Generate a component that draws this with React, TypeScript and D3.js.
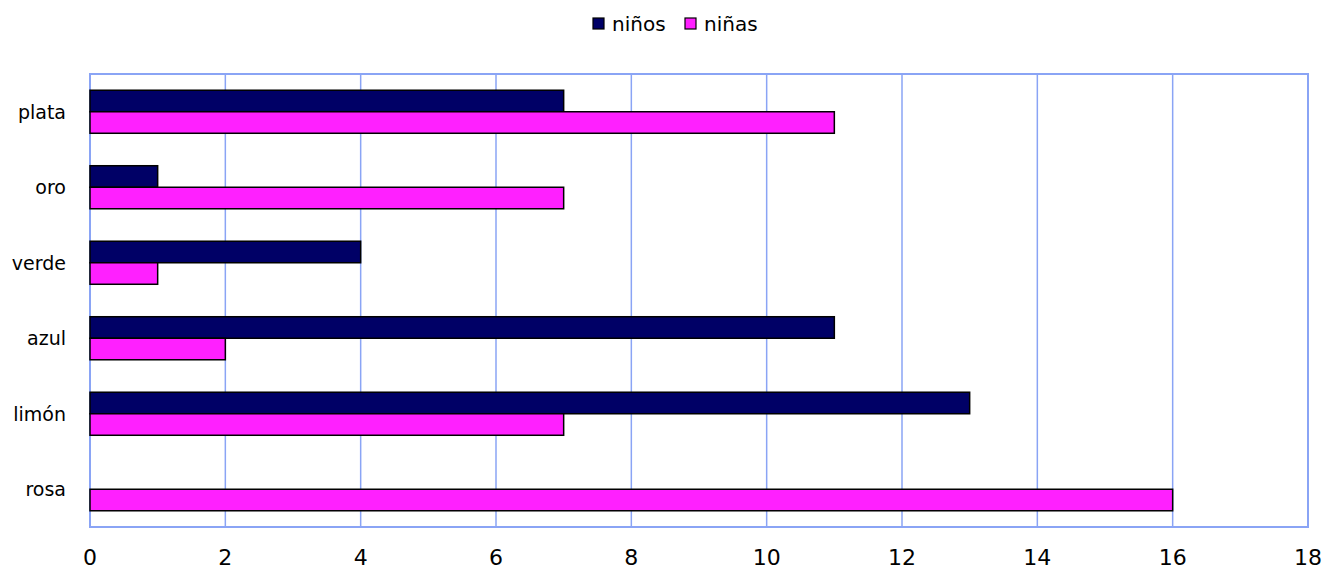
import * as d3 from "d3";

const categories = ["plata", "oro", "verde", "azul", "limón", "rosa"];
const ninos = [7, 1, 4, 11, 13, 0];
const ninas = [11, 7, 1, 2, 7, 16];
const seriesNames = ["niños", "niñas"];
const xTicks = [0, 2, 4, 6, 8, 10, 12, 14, 16, 18];

const colors = ["#000066", "#ff20ff"];
const gridColor = "#8aa4f5";
const font = "'DejaVu Sans', Verdana, sans-serif";

const App = () => {
  const width = 1325;
  const height = 568;
  const left = 90;
  const right = 1308;
  const top = 74;
  const bottom = 527;

  const x = d3.scaleLinear().domain([0, 18]).range([left, right]);
  const y = d3.scaleBand().domain(categories).range([top, bottom]).paddingInner(0.43).paddingOuter(0.215);
  const inner = d3.scaleBand().domain(seriesNames).range([0, y.bandwidth()]);

  const values = [ninos, ninas];

  return (
    <svg
      width={width}
      height={height}
      style={{ position: "absolute", left: 0, top: 0, fontFamily: font }}
    >
      <rect x={0} y={0} width={width} height={height} fill="#fff" />
      {/* grid */}
      {xTicks.slice(1, -1).map((t) => (
        <line key={t} x1={x(t)} x2={x(t)} y1={top} y2={bottom} stroke={gridColor} strokeWidth={1.5} />
      ))}
      <rect
        x={left}
        y={top}
        width={right - left}
        height={bottom - top}
        fill="none"
        stroke={gridColor}
        strokeWidth={2}
      />
      {/* bars */}
      {seriesNames.map((s, si) =>
        categories.map((c, ci) =>
          values[si][ci] > 0 ? (
            <rect
              key={s + c}
              x={x(0)}
              y={(y(c) ?? 0) + (inner(s) ?? 0)}
              width={x(values[si][ci]) - x(0)}
              height={inner.bandwidth()}
              fill={colors[si]}
              stroke="#000"
              strokeWidth={1.5}
            />
          ) : null
        )
      )}
      {/* category labels */}
      {categories.map((c) => (
        <text
          key={c}
          x={66}
          y={(y(c) ?? 0) + y.bandwidth() / 2}
          textAnchor="end"
          dominantBaseline="central"
          fontSize={19}
          fill="#000"
        >
          {c}
        </text>
      ))}
      {/* x tick labels */}
      {xTicks.map((t) => (
        <text key={t} x={x(t)} y={557} textAnchor="middle" dominantBaseline="central" fontSize={22} fill="#000">
          {t}
        </text>
      ))}
      {/* legend */}
      {seriesNames.map((s, i) => {
        const lx = i === 0 ? 593 : 685;
        return (
          <g key={s}>
            <rect x={lx} y={18} width={11} height={11} fill={colors[i]} stroke="#000" strokeWidth={1.2} />
            <text x={lx + 19} y={24} dominantBaseline="central" fontSize={20} fill="#000">
              {s}
            </text>
          </g>
        );
      })}
    </svg>
  );
};

export default App;
